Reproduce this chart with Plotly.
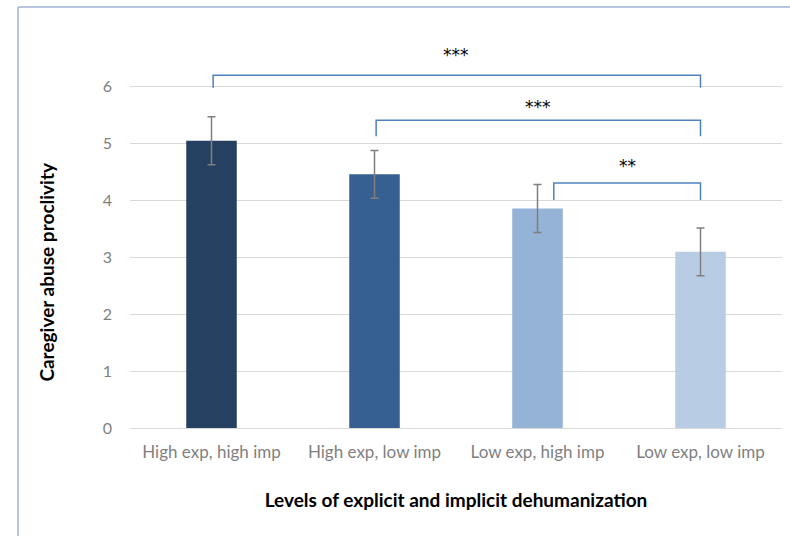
import plotly.graph_objects as go

categories = ["High exp, high imp", "High exp, low imp", "Low exp, high imp", "Low exp, low imp"]
means = [5.04, 4.45, 3.85, 3.09]
errors = [0.42, 0.42, 0.42, 0.42]
bar_colors = ["#264061", "#366092", "#95B3D7", "#B8CCE4"]

# significance brackets: (from index, to index, bracket height, leg bottom, label, label y)
brackets = [
    (0, 3, 6.19, 5.97, "***", 6.55),
    (1, 3, 5.40, 5.12, "***", 5.63),
    (2, 3, 4.30, 4.00, "**", 4.60),
]
y_ticks = [0, 1, 2, 3, 4, 5, 6]

fig = go.Figure()
fig.add_trace(go.Bar(
    x=list(range(len(categories))), y=means,
    marker=dict(color=bar_colors, line=dict(width=0)),
    width=0.31,
    error_y=dict(type="data", array=errors, visible=True, color="#7f7f7f", thickness=1.5, width=4),
    showlegend=False,
))

bracket_color = "#4f81bd"
for i0, i1, h, lb, lab, ly in brackets:
    x0 = i0 + 0.01
    x1 = i1
    if i0 == 2:
        x0 = i0 + 0.1
    fig.add_trace(go.Scatter(
        x=[x0, x0, x1, x1], y=[lb, h, h, lb], mode="lines",
        line=dict(color=bracket_color, width=1.5),
        showlegend=False, hoverinfo="skip",
    ))
    fig.add_annotation(x=(i0 + i1) / 2 + (0.05 if i0 == 2 else 0), y=ly, text=lab, showarrow=False,
                       font=dict(family="DejaVu Sans", size=17, color="#000000"))

fig.add_annotation(xref="paper", yref="paper", x=-0.1273, y=0.392, text="<b>Caregiver abuse proclivity</b>",
                   textangle=-90, showarrow=False, xanchor="center", yanchor="middle",
                   font=dict(family="Lato", size=19, color="#000000"))

fig.update_layout(
    width=790, height=536,
    margin=dict(l=130, r=8, t=29, b=108),
    plot_bgcolor="white", paper_bgcolor="white",
    font=dict(family="Lato", color="#595959"),
    xaxis=dict(
        range=[-0.5, 3.5],
        tickmode="array", tickvals=list(range(len(categories))), ticktext=categories,
        tickfont=dict(size=17, color="#7f7f7f"),
        showgrid=False, zeroline=False, showline=False, ticks="", ticklabelstandoff=12,
        title=dict(text="<b>Levels of explicit and implicit dehumanization</b>",
                   font=dict(size=19, color="#000000"), standoff=32),
    ),
    yaxis=dict(
        range=[0, 7], tickvals=y_ticks,
        tickfont=dict(size=16, color="#7f7f7f"),
        showgrid=True, gridcolor="#d9d9d9", gridwidth=1,
        zeroline=True, zerolinecolor="#d9d9d9", zerolinewidth=1,
        showline=False, ticks="", ticklabelstandoff=17,
    ),
    shapes=[
        dict(type="line", xref="paper", yref="paper", x0=-0.1718, x1=1.02, y0=1.055, y1=1.055,
             line=dict(color="#9db3d3", width=1.5)),
        dict(type="line", xref="paper", yref="paper", x0=-0.1718, x1=-0.1718, y0=-0.3, y1=1.055,
             line=dict(color="#9db3d3", width=1.5)),
    ],
)

fig.write_html("out.html", config={"displayModeBar": False},
               post_script="document.body.style.margin='0';document.body.style.overflow='hidden';")
